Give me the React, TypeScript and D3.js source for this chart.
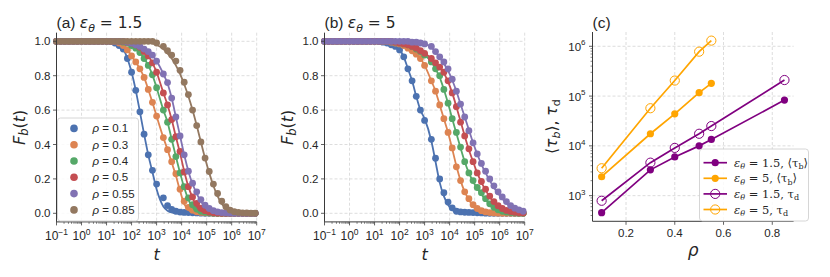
import React from 'react';
import * as d3 from 'd3';

// sample times (log10 t) of the simulation points
const logTimes = [
  -1, -0.833, -0.667, -0.5, -0.333, -0.167, 0, 0.167, 0.333, 0.5, 0.667, 0.833,
  1, 1.167, 1.333, 1.5, 1.667, 1.833, 2, 2.167, 2.333, 2.5, 2.667, 2.833, 3,
  3.27, 3.437, 3.603, 3.77, 3.937, 4.103, 4.27, 4.437, 4.603, 4.77, 4.937, 5.103,
  5.27, 5.437, 5.603, 5.77, 5.937, 6.103, 6.27, 6.437, 6.603, 6.77, 6.937,
];

const rhoLabels = ['0.1', '0.3', '0.4', '0.5', '0.55', '0.85'];
const seriesColors = ['#4C72B0', '#DD8452', '#55A868', '#C44E52', '#8172B3', '#937860'];

// ---- panel (a): eps = 1.5 ----
const a01Pts = [1,1,1,1,1,1,1,1,1,1,1,1,1, 0.998,0.99,0.975,0.955,0.90,0.82,0.715,0.59,0.46,0.34,0.25,0.17, 0.09,0.045,0.022,0.012,0.007,0.005,0.004,0.003,0.002,0.001, 0,0,0,0,0,0,0,0,0,0,0,0,0];
const a01Fit = [1,1,1,1,1,1,1,1,1,1,1,1,1, 0.998,0.99,0.975,0.955,0.90,0.82,0.715,0.59,0.46,0.34,0.24,0.14, 0.04,0.015,0.005,0.001, 0,0,0,0,0,0,0,0,0,0,0,0,0,0,0,0,0,0,0];
const a03Pts = [1,1,1,1,1,1,1,1,1,1,1,1,1,1, 0.998,0.99,0.975,0.95,0.915,0.88,0.84,0.79,0.72,0.645,0.565, 0.44,0.37,0.30,0.23,0.14,0.07,0.035,0.018,0.009,0.005,0.003,0.002,0.001, 0,0,0,0,0,0,0,0,0,0];
const a03Fit = [1,1,1,1,1,1,1,1,1,1,1,1,1,1, 0.998,0.99,0.975,0.95,0.915,0.88,0.84,0.79,0.72,0.645,0.565, 0.44,0.37,0.295,0.22,0.13,0.055,0.02,0.007,0.002, 0,0,0,0,0,0,0,0,0,0,0,0,0,0];
const a04Pts = [1,1,1,1,1,1,1,1,1,1,1,1,1,1,1,1, 0.995,0.99,0.975,0.96,0.935,0.90,0.86,0.805,0.73, 0.60,0.53,0.43,0.33,0.235,0.155,0.09,0.05,0.025,0.012,0.006,0.003,0.001, 0,0,0,0,0,0,0,0,0,0];
const a04Fit = [1,1,1,1,1,1,1,1,1,1,1,1,1,1,1,1, 0.995,0.99,0.975,0.96,0.935,0.90,0.86,0.805,0.73, 0.60,0.53,0.43,0.33,0.235,0.15,0.08,0.035,0.012,0.004, 0,0,0,0,0,0,0,0,0,0,0,0,0];
const a05Pts = [1,1,1,1,1,1,1,1,1,1,1,1,1,1,1,1,1, 0.995,0.99,0.98,0.965,0.94,0.915,0.875,0.82, 0.70,0.63,0.545,0.445,0.36,0.24,0.155,0.095,0.058,0.03,0.015,0.007,0.003,0.001, 0,0,0,0,0,0,0,0,0];
const a05Fit = [1,1,1,1,1,1,1,1,1,1,1,1,1,1,1,1,1, 0.995,0.99,0.98,0.965,0.94,0.915,0.875,0.82, 0.70,0.63,0.545,0.445,0.35,0.245,0.155,0.09,0.04,0.015,0.005,0.001, 0,0,0,0,0,0,0,0,0,0,0];
const a055Pts = [1,1,1,1,1,1,1,1,1,1,1,1,1,1,1,1,1, 0.995,0.99,0.98,0.97,0.955,0.94,0.92,0.885, 0.81,0.76,0.67,0.56,0.45,0.34,0.245,0.175,0.125,0.08,0.047,0.028,0.015,0.008,0.004,0.002,0.001, 0,0,0,0,0,0];
const a055Fit = [1,1,1,1,1,1,1,1,1,1,1,1,1,1,1,1,1, 0.995,0.99,0.98,0.97,0.955,0.94,0.92,0.885, 0.81,0.755,0.67,0.56,0.45,0.34,0.245,0.17,0.115,0.07,0.035,0.015,0.006,0.002, 0,0,0,0,0,0,0,0,0];
const a085Pts = [1,1,1,1,1,1,1,1,1,1,1,1,1,1,1,1,1,1,1,1,1,1,1,1, 0.99, 0.971,0.945,0.92,0.885,0.831,0.762,0.69,0.60,0.51,0.415,0.321,0.243,0.17,0.115,0.07,0.038,0.019,0.009,0.005,0.003,0.002,0.001,0.001];
const a085Fit = [1,1,1,1,1,1,1,1,1,1,1,1,1,1,1,1,1,1,1,1,1,1, 0.995,0.99,0.98, 0.955,0.93,0.90,0.86,0.81,0.75,0.68,0.60,0.51,0.415,0.32,0.235,0.16,0.10,0.055,0.027,0.012,0.005,0.002, 0,0,0,0];

// ---- panel (b): eps = 5 ----
const b01Pts = [1,1,1,1,1,1,1,1,1,1,1,1,1,1, 0.995,0.99,0.98,0.97,0.95,0.91,0.84,0.77,0.68,0.60,0.54, 0.43,0.32,0.20,0.12,0.065,0.032,0.012,0.008,0.006,0.005,0.004,0.003,0.002,0.001, 0,0,0,0,0,0,0,0,0];
const b01Fit = [1,1,1,1,1,1,1,1,1,1,1,1,1,1, 0.995,0.99,0.98,0.97,0.95,0.91,0.84,0.77,0.68,0.60,0.55, 0.42,0.30,0.18,0.10,0.05,0.02,0.006,0.002, 0,0,0,0,0,0,0,0,0,0,0,0,0,0,0];
const b03Pts = [1,1,1,1,1,1,1,1,1,1,1,1,1,1,1,1, 0.995,0.99,0.985,0.975,0.96,0.945,0.925,0.90,0.86, 0.77,0.71,0.63,0.55,0.47,0.38,0.27,0.19,0.125,0.085,0.05,0.028,0.015,0.008,0.004,0.002,0.001, 0,0,0,0,0,0];
const b03Fit = [1,1,1,1,1,1,1,1,1,1,1,1,1,1,1,1, 0.995,0.99,0.985,0.975,0.96,0.945,0.925,0.90,0.86, 0.77,0.71,0.63,0.55,0.47,0.375,0.275,0.19,0.125,0.08,0.04,0.018,0.007,0.002, 0,0,0,0,0,0,0,0,0];
const b04Pts = [1,1,1,1,1,1,1,1,1,1,1,1,1,1,1,1,1, 0.995,0.99,0.985,0.98,0.97,0.955,0.94,0.92, 0.88,0.84,0.80,0.72,0.64,0.55,0.47,0.385,0.30,0.235,0.19,0.15,0.12,0.085,0.055,0.035,0.02,0.012,0.007,0.004,0.002,0.001, 0];
const b04Fit = [1,1,1,1,1,1,1,1,1,1,1,1,1,1,1,1,1, 0.995,0.99,0.985,0.98,0.97,0.955,0.94,0.92, 0.88,0.84,0.79,0.72,0.64,0.55,0.465,0.38,0.30,0.235,0.185,0.145,0.11,0.08,0.05,0.028,0.015,0.007,0.003,0.001, 0,0,0];
const b05Pts = [1,1,1,1,1,1,1,1,1,1,1,1,1,1,1,1,1, 0.995,0.99,0.985,0.98,0.97,0.96,0.945,0.93, 0.90,0.875,0.85,0.82,0.77,0.70,0.62,0.53,0.45,0.375,0.30,0.235,0.185,0.14,0.10,0.068,0.044,0.028,0.017,0.01,0.006,0.003,0.002];
const b05Fit = [1,1,1,1,1,1,1,1,1,1,1,1,1,1,1,1,1, 0.995,0.99,0.985,0.98,0.97,0.96,0.945,0.93, 0.90,0.875,0.85,0.815,0.765,0.70,0.62,0.535,0.45,0.37,0.30,0.235,0.18,0.135,0.095,0.064,0.04,0.022,0.012,0.006,0.003,0.001, 0];
const b055Pts = [1,1,1,1,1,1,1,1,1,1,1,1,1,1,1,1,1,1,1,1,1, 0.995,0.995,0.99,0.985, 0.97,0.94,0.91,0.88,0.84,0.78,0.71,0.635,0.56,0.48,0.41,0.345,0.29,0.245,0.20,0.16,0.125,0.095,0.068,0.045,0.03,0.02,0.012];
const b055Fit = [1,1,1,1,1,1,1,1,1,1,1,1,1,1,1,1,1,1,1,1,1, 0.995,0.995,0.99,0.985, 0.965,0.94,0.905,0.87,0.83,0.775,0.71,0.635,0.56,0.485,0.41,0.345,0.285,0.235,0.19,0.15,0.115,0.085,0.06,0.04,0.025,0.015,0.008];

const panelAPts = [a01Pts, a03Pts, a04Pts, a05Pts, a055Pts, a085Pts];
const panelAFit = [a01Fit, a03Fit, a04Fit, a05Fit, a055Fit, a085Fit];
const panelBPts = [b01Pts, b03Pts, b04Pts, b05Pts, b055Pts];
const panelBFit = [b01Fit, b03Fit, b04Fit, b05Fit, b055Fit];

// ---- panel (c) ----
const rhoEps15 = [0.1, 0.3, 0.4, 0.5, 0.55, 0.85];
const tauBEps15 = [455, 3300, 6000, 10000, 13500, 83000];
const tauDEps15 = [790, 4600, 9100, 17500, 25000, 210000];
const rhoEps5 = [0.1, 0.3, 0.4, 0.5, 0.55];
const tauBEps5 = [2400, 17500, 44000, 117000, 180000];
const tauDEps5 = [3550, 57000, 205000, 780000, 1300000];

const xDecades = [-1, 0, 1, 2, 3, 4, 5, 6, 7];
const fTicks = [0, 0.2, 0.4, 0.6, 0.8, 1.0];
const rhoTicks = [0.2, 0.4, 0.6, 0.8];
const cDecades = [3, 4, 5, 6];

const SANS = "'Liberation Sans', Arial, sans-serif";
const MATH = "'DejaVu Sans', sans-serif";
const SERIF = "'DejaVu Serif', serif";
const TXT = '#262626';
const GRID = '#d4d4d4';
const SPINE = '#3a3a3a';

const Y_TOP = 32.7;
const Y_BOT = 221.9;

function expLabel(e: number) {
  return e < 0 ? '\u2212' + String(-e) : String(e);
}

function DecayPanel(props: {
  x0: number; letter: string; eps: string; pts: number[][]; fits: number[][]; legend: boolean;
}) {
  const { x0, letter, eps, pts, fits, legend } = props;
  const x1 = x0 + 200.2;
  const xs = d3.scaleLog().domain([0.1, 1e7]).range([x0, x1]);
  const ys = d3.scaleLinear().domain([-0.05, 1.05]).range([Y_BOT, Y_TOP]);
  const line = d3.line<[number, number]>()
    .x((d) => xs(Math.pow(10, d[0])))
    .y((d) => ys(d[1]))
    .curve(d3.curveMonotoneX);
  const minor: number[] = [];
  for (let e = -1; e < 7; e++) for (let k = 2; k <= 9; k++) minor.push(k * Math.pow(10, e));
  const cx = (x0 + x1) / 2;
  return (
    <g>
      {xDecades.map((e) => (
        <line key={'gx' + e} x1={xs(Math.pow(10, e))} x2={xs(Math.pow(10, e))} y1={Y_TOP} y2={Y_BOT}
          stroke={GRID} strokeWidth={0.8} strokeDasharray="3,2" />
      ))}
      {fTicks.map((v) => (
        <line key={'gy' + v} x1={x0} x2={x1} y1={ys(v)} y2={ys(v)} stroke={GRID} strokeWidth={0.8} strokeDasharray="3,2" />
      ))}
      {pts.map((arr, i) => {
        const fitData = fits[i].map((v, j) => [logTimes[j], v] as [number, number]);
        return (
          <g key={'s' + i}>
            <path d={line(fitData) || ''} fill="none" stroke={seriesColors[i]} strokeWidth={1.8} />
            {arr.map((v, j) => (
              <circle key={j} cx={xs(Math.pow(10, logTimes[j]))} cy={ys(v)} r={3.4} fill={seriesColors[i]} />
            ))}
          </g>
        );
      })}
      <line x1={x0} x2={x0} y1={Y_TOP} y2={Y_BOT} stroke={SPINE} strokeWidth={1} />
      <line x1={x0} x2={x1} y1={Y_BOT} y2={Y_BOT} stroke={SPINE} strokeWidth={1} />
      {fTicks.map((v) => (
        <g key={'ty' + v}>
          <line x1={x0 - 3.5} x2={x0} y1={ys(v)} y2={ys(v)} stroke={SPINE} strokeWidth={0.8} />
          <text x={x0 - 6} y={ys(v) + 4.1} textAnchor="end" fontFamily={SANS} fontSize={11.5} fill={TXT}>
            {v.toFixed(1)}
          </text>
        </g>
      ))}
      {minor.map((m, i) => (
        <line key={'mx' + i} x1={xs(m)} x2={xs(m)} y1={Y_BOT} y2={Y_BOT + 2} stroke={SPINE} strokeWidth={0.6} />
      ))}
      {xDecades.map((e) => (
        <g key={'tx' + e}>
          <line x1={xs(Math.pow(10, e))} x2={xs(Math.pow(10, e))} y1={Y_BOT} y2={Y_BOT + 3.5} stroke={SPINE} strokeWidth={0.8} />
          <text x={xs(Math.pow(10, e))} y={240} textAnchor="middle" fontFamily={SANS} fontSize={12} fill={TXT}>
            10<tspan dy={-5.5} fontSize={8.5}>{expLabel(e)}</tspan>
          </text>
        </g>
      ))}
      <text x={cx} y={259.5} textAnchor="middle" fontFamily={MATH} fontStyle="italic" fontSize={16} fill={TXT}>t</text>
      <text transform={`translate(${x0 - 32},${(Y_TOP + Y_BOT) / 2}) rotate(-90)`} textAnchor="middle" fontFamily={MATH} fontSize={16} fill={TXT}>
        <tspan fontStyle="italic">F</tspan><tspan fontStyle="italic" fontSize={11.5} dy={3.5}>b</tspan><tspan dy={-3.5}>(</tspan><tspan fontStyle="italic">t</tspan>)
      </text>
      <text x={x0} y={28} fontFamily={SANS} fontSize={15.5} fill={TXT}>
        ({letter}) <tspan fontStyle="italic" fontFamily={MATH}>ε</tspan><tspan fontStyle="italic" fontFamily={MATH} fontSize={11} dy={3.5}>θ</tspan><tspan dy={-3.5} fontFamily={MATH}> = {eps}</tspan>
      </text>
      {legend && (
        <g>
          <rect x={57.5} y={118} width={81} height={103} rx={3} fill="white" fillOpacity={0.85} stroke="#cccccc" strokeWidth={0.8} />
          {rhoLabels.map((r, i) => (
            <g key={'lg' + i}>
              <circle cx={74} cy={128.4 + i * 16.3} r={3.8} fill={seriesColors[i]} />
              <text x={92.5} y={128.4 + i * 16.3 + 4} fontFamily={SANS} fontSize={11.5} fill={TXT}>
                <tspan fontStyle="italic">ρ</tspan> = {r}
              </text>
            </g>
          ))}
        </g>
      )}
    </g>
  );
}

function TauPanel() {
  const x0 = 592.5;
  const x1 = 793.6;
  const xs = d3.scaleLinear().domain([0.0625, 0.8875]).range([x0, x1]);
  const ys = d3.scaleLog().domain([Math.pow(10, 2.485), Math.pow(10, 6.287)]).range([221.3, 32]);
  const yb = 221.3;
  const yt = 32;
  const line = d3.line<[number, number]>().x((d) => xs(d[0])).y((d) => ys(d[1]));
  const minor: number[] = [];
  for (let e = 2; e <= 6; e++) for (let k = 2; k <= 9; k++) {
    const v = k * Math.pow(10, e);
    if (v > Math.pow(10, 2.485) && v < Math.pow(10, 6.287)) minor.push(v);
  }
  const purple = '#800080';
  const orange = '#FFA500';
  const series = [
    { rho: rhoEps15, vals: tauBEps15, color: purple, open: false },
    { rho: rhoEps5, vals: tauBEps5, color: orange, open: false },
    { rho: rhoEps15, vals: tauDEps15, color: purple, open: true },
    { rho: rhoEps5, vals: tauDEps5, color: orange, open: true },
  ];
  const legendText = [
    { eps: '1.5', tau: 'b' },
    { eps: '5', tau: 'b' },
    { eps: '1.5', tau: 'd' },
    { eps: '5', tau: 'd' },
  ];
  return (
    <g>
      {rhoTicks.map((v) => (
        <line key={'gx' + v} x1={xs(v)} x2={xs(v)} y1={yt} y2={yb} stroke={GRID} strokeWidth={0.8} strokeDasharray="3,2" />
      ))}
      {cDecades.map((e) => (
        <line key={'gy' + e} x1={x0} x2={x1} y1={ys(Math.pow(10, e))} y2={ys(Math.pow(10, e))} stroke={GRID} strokeWidth={0.8} strokeDasharray="3,2" />
      ))}
      {series.map((s, i) => {
        const data = s.rho.map((r, j) => [r, s.vals[j]] as [number, number]);
        return (
          <g key={'c' + i}>
            <path d={line(data) || ''} fill="none" stroke={s.color} strokeWidth={1.7} />
            {data.map((d, j) => (
              s.open
                ? <circle key={j} cx={xs(d[0])} cy={ys(d[1])} r={4.6} fill="none" stroke={s.color} strokeWidth={1} />
                : <circle key={j} cx={xs(d[0])} cy={ys(d[1])} r={3.6} fill={s.color} />
            ))}
          </g>
        );
      })}
      <line x1={x0} x2={x0} y1={yt} y2={yb} stroke={SPINE} strokeWidth={1} />
      <line x1={x0} x2={x1} y1={yb} y2={yb} stroke={SPINE} strokeWidth={1} />
      {minor.map((m, i) => (
        <line key={'my' + i} x1={x0 - 2} x2={x0} y1={ys(m)} y2={ys(m)} stroke={SPINE} strokeWidth={0.6} />
      ))}
      {cDecades.map((e) => (
        <g key={'ty' + e}>
          <line x1={x0 - 3.5} x2={x0} y1={ys(Math.pow(10, e))} y2={ys(Math.pow(10, e))} stroke={SPINE} strokeWidth={0.8} />
          <text x={x0 - 7} y={ys(Math.pow(10, e)) + 4.5} textAnchor="end" fontFamily={SANS} fontSize={11.5} fill={TXT}>
            10<tspan dy={-5.5} fontSize={8}>{expLabel(e)}</tspan>
          </text>
        </g>
      ))}
      {rhoTicks.map((v) => (
        <g key={'tx' + v}>
          <line x1={xs(v)} x2={xs(v)} y1={yb} y2={yb + 3.5} stroke={SPINE} strokeWidth={0.8} />
          <text x={xs(v)} y={237} textAnchor="middle" fontFamily={SANS} fontSize={11.5} fill={TXT}>{v.toFixed(1)}</text>
        </g>
      ))}
      <text x={(x0 + x1) / 2} y={256} textAnchor="middle" fontFamily={MATH} fontStyle="italic" fontSize={17} fill={TXT}>ρ</text>
      <text transform={`translate(${x0 - 36},${(yt + yb) / 2}) rotate(-90)`} textAnchor="middle" fontFamily={MATH} fontSize={15.5} fill={TXT}>
        ⟨<tspan fontStyle="italic">τ</tspan><tspan fontStyle="italic" fontSize={11} dy={3.5}>b</tspan><tspan dy={-3.5}>⟩, </tspan><tspan fontStyle="italic">τ</tspan><tspan fontSize={11} dy={3.5}>d</tspan>
      </text>
      <text x={x0} y={28} fontFamily={SANS} fontSize={15.5} fill={TXT}>(c)</text>
      <g>
        <rect x={699.5} y={149} width={109} height={72} rx={3} fill="white" fillOpacity={0.85} stroke="#cccccc" strokeWidth={0.8} />
        {series.map((s, i) => {
          const yy = 162.7 + i * 15.6;
          const lt = legendText[i];
          return (
            <g key={'lg' + i}>
              <line x1={703.5} x2={727} y1={yy} y2={yy} stroke={s.color} strokeWidth={1.7} />
              {s.open
                ? <circle cx={715.2} cy={yy} r={4.6} fill="none" stroke={s.color} strokeWidth={1} />
                : <circle cx={715.2} cy={yy} r={3.6} fill={s.color} />}
              <text x={734} y={yy + 4} fontFamily={SERIF} fontSize={11.5} fill={TXT}>
                <tspan fontStyle="italic">ε</tspan><tspan fontStyle="italic" fontSize={8} dy={2.5}>θ</tspan><tspan dy={-2.5}> = {lt.eps},  </tspan>
                {lt.tau === 'b'
                  ? <tspan>⟨τ<tspan fontSize={8} dy={2.5}>b</tspan><tspan dy={-2.5}>⟩</tspan></tspan>
                  : <tspan>τ<tspan fontSize={8} dy={2.5}>d</tspan></tspan>}
              </text>
            </g>
          );
        })}
      </g>
    </g>
  );
}

export default function App() {
  return (
    <svg width={830} height={277} viewBox="0 0 830 277"
      style={{ position: 'absolute', left: 0, top: 0, background: 'white' }}>
      <rect x={0} y={0} width={830} height={277} fill="white" />
      <DecayPanel x0={56.5} letter="a" eps="1.5" pts={panelAPts} fits={panelAFit} legend={true} />
      <DecayPanel x0={324.5} letter="b" eps="5" pts={panelBPts} fits={panelBFit} legend={false} />
      <TauPanel />
    </svg>
  );
}
